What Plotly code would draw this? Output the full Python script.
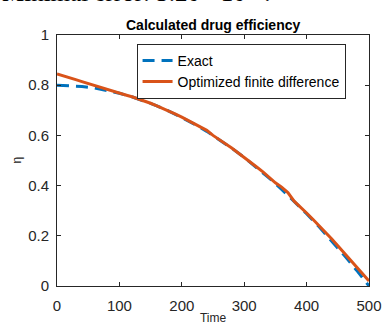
import plotly.graph_objects as go

# Exact efficiency curve (sampled every 20 time units)
t_exact = [0, 20, 40, 60, 80, 100, 120, 140, 160, 180, 200, 220, 240,
           260, 280, 300, 320, 340, 360, 380, 400, 420, 440, 460, 480, 500]
eta_exact = [0.800, 0.799, 0.795, 0.789, 0.780, 0.768, 0.754, 0.737, 0.718,
             0.696, 0.672, 0.645, 0.616, 0.584, 0.549, 0.512, 0.472, 0.430,
             0.385, 0.338, 0.288, 0.236, 0.181, 0.123, 0.063, 0.000]

# Optimized finite-difference reconstruction (every 10 time units)
t_fd = list(range(0, 510, 10))
eta_fd = [0.845, 0.838, 0.830, 0.822, 0.814, 0.806, 0.799, 0.792, 0.785, 0.777,
          0.769, 0.761, 0.754, 0.746, 0.738, 0.728, 0.718, 0.708, 0.697, 0.685,
          0.673, 0.660, 0.646, 0.633, 0.620, 0.600, 0.584, 0.567, 0.550, 0.531,
          0.511, 0.493, 0.474, 0.455, 0.432, 0.411, 0.394, 0.372, 0.338, 0.316,
          0.291, 0.266, 0.241, 0.214, 0.188, 0.160, 0.132, 0.105, 0.076, 0.048,
          0.020]

x_ticks = [0, 100, 200, 300, 400, 500]
y_ticks = [0, 0.2, 0.4, 0.6, 0.8, 1]

BLUE = "#0072BD"
ORANGE = "#D95319"
AXIS = "#262626"
SANS = "Liberation Sans, Arial, sans-serif"

fig = go.Figure()
fig.add_trace(go.Scatter(
    x=t_exact, y=eta_exact, mode="lines", name="Exact",
    line=dict(color=BLUE, width=3, dash="12px,7px"),
))
fig.add_trace(go.Scatter(
    x=t_fd, y=eta_fd, mode="lines", name="Optimized finite difference",
    line=dict(color=ORANGE, width=3),
))

axis_common = dict(
    showline=True, linecolor=AXIS, linewidth=1, mirror="ticks",
    ticks="inside", ticklen=4, tickcolor=AXIS, tickwidth=1,
    showgrid=False, zeroline=False, automargin=False,
    tickfont=dict(family=SANS, size=15, color=AXIS),
)

fig.update_layout(
    width=382, height=328,
    margin=dict(l=57, r=13, t=35, b=42),
    paper_bgcolor="white", plot_bgcolor="white",
    showlegend=True,
    legend=dict(
        x=0.255, y=0.965, xanchor="left", yanchor="top",
        bgcolor="white", bordercolor=AXIS, borderwidth=1,
        font=dict(family=SANS, size=14, color="black"),
        tracegroupgap=0,
    ),
    xaxis=dict(
        range=[0, 500], tickvals=x_ticks, ticklabelstandoff=6,
        title=dict(text="Time", font=dict(family=SANS, size=12, color=AXIS),
                   standoff=0),
        **axis_common,
    ),
    yaxis=dict(
        range=[0, 1], tickvals=y_ticks, ticklabelstandoff=4,
        **axis_common,
    ),
    annotations=[
        dict(text="η", xref="paper", yref="paper",
             x=-41 / 312, y=0.5, xanchor="center", yanchor="middle",
             textangle=-90, showarrow=False,
             font=dict(family=SANS, size=12, color=AXIS)),
        dict(text="<b>Calculated drug efficiency</b>", xref="paper", yref="paper",
             x=0.5, y=1.0, xanchor="center", yanchor="bottom", yshift=0,
             showarrow=False, font=dict(family=SANS, size=14, color="black")),
        dict(text="Minimal error: 3.20 · 10<sup>−4</sup>.", xref="paper", yref="paper",
             x=-57 / 312, y=1.0, xanchor="left", yanchor="bottom", yshift=27,
             showarrow=False,
             font=dict(family="Liberation Serif, serif", size=25, color="black")),
    ],
)

fig.write_html("out.html")
